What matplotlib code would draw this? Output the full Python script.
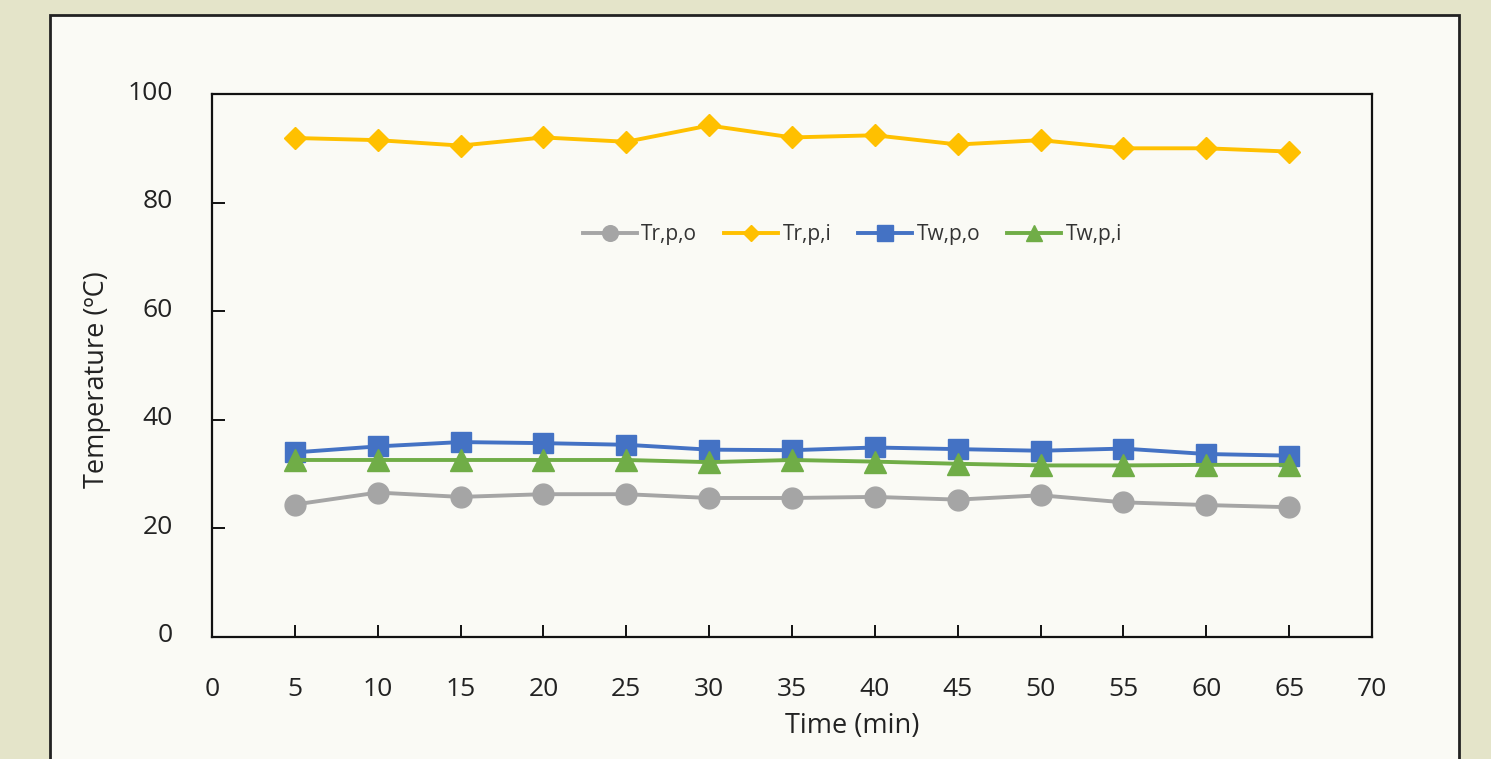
import numpy as np
import matplotlib
matplotlib.use("Agg")
import matplotlib.pyplot as plt
from matplotlib.patches import Rectangle
from matplotlib.transforms import ScaledTranslation

plt.rcParams['font.family'] = ['Open Sans', 'DejaVu Sans']

# sampling times (min) and measured temperatures (degC)
time_min = [5, 10, 15, 20, 25, 30, 35, 40, 45, 50, 55, 60, 65]
tr_p_o = [24.4, 26.6, 25.8, 26.3, 26.3, 25.6, 25.6, 25.8, 25.3, 26.1, 24.8, 24.3, 23.9]
tr_p_i = [91.9, 91.5, 90.5, 92.0, 91.2, 94.2, 92.0, 92.4, 90.7, 91.5, 90.0, 90.0, 89.4]
tw_p_o = [34.0, 35.1, 35.9, 35.7, 35.4, 34.5, 34.4, 34.9, 34.6, 34.3, 34.7, 33.7, 33.4]
tw_p_i = [32.6, 32.6, 32.6, 32.6, 32.6, 32.2, 32.6, 32.3, 31.9, 31.6, 31.6, 31.7, 31.7]

series = [
    ("Tr,p,o", tr_p_o, "#A5A5A5", "o", 15),
    ("Tr,p,i", tr_p_i, "#FFC000", "D", 11.5),
    ("Tw,p,o", tw_p_o, "#4472C4", "s", 15),
    ("Tw,p,i", tw_p_i, "#70AD47", "^", 16),
]

fig = plt.figure(figsize=(14.91, 7.59), dpi=100)
fig.patch.set_facecolor("#E4E4C9")

# white chart panel with dark frame, running off the bottom edge
panel = Rectangle((50 / 1491, -0.1), (1459 - 50) / 1491, 1.1 - 15 / 759,
                  transform=fig.transFigure, facecolor="#FAFAF5",
                  edgecolor="#222222", linewidth=2, zorder=-1)
fig.patches.append(panel)

ax = fig.add_axes([212 / 1491, 1 - 637 / 759, 1160 / 1491, 543 / 759])
ax.set_facecolor("#FAFAF5")

for name, vals, col, mk, ms in series:
    ax.plot(time_min, vals, color=col, lw=2.8, marker=mk, markersize=ms,
            markeredgecolor=col, label=name)

ax.set_xlim(0, 70)
ax.set_ylim(0, 100)
ax.set_xticks(np.arange(0, 71, 5))
ax.set_yticks(np.arange(0, 101, 20))

for s in ax.spines.values():
    s.set_linewidth(1.6)
    s.set_color("#111111")

ax.tick_params(axis="both", direction="in", length=9, width=1.4,
               labelsize=19, colors="#111111", labelcolor="#222222")
ax.tick_params(axis="y", pad=28)
ax.tick_params(axis="x", pad=29)

# y tick labels sit a little above their ticks
shift = ScaledTranslation(0, 4 / 100, fig.dpi_scale_trans)
for lab in ax.get_yticklabels():
    lab.set_transform(lab.get_transform() + shift)

fig.text(97 / 1491, 1 - 380 / 759, "Temperature (ºC)", rotation=90,
         ha="center", va="center", fontsize=19.5, color="#222222")
fig.text(852 / 1491, 1 - 726 / 759, "Time (min)", ha="center", va="center",
         fontsize=19.5, color="#222222")

ax.legend(loc="center", bbox_to_anchor=(0.552, 0.741), ncol=4, frameon=False,
          fontsize=15, markerscale=0.75, handlelength=2.6, columnspacing=1.3,
          handletextpad=0.2, labelcolor="#333333")

fig.savefig("out.png", dpi=100, facecolor=fig.get_facecolor())
